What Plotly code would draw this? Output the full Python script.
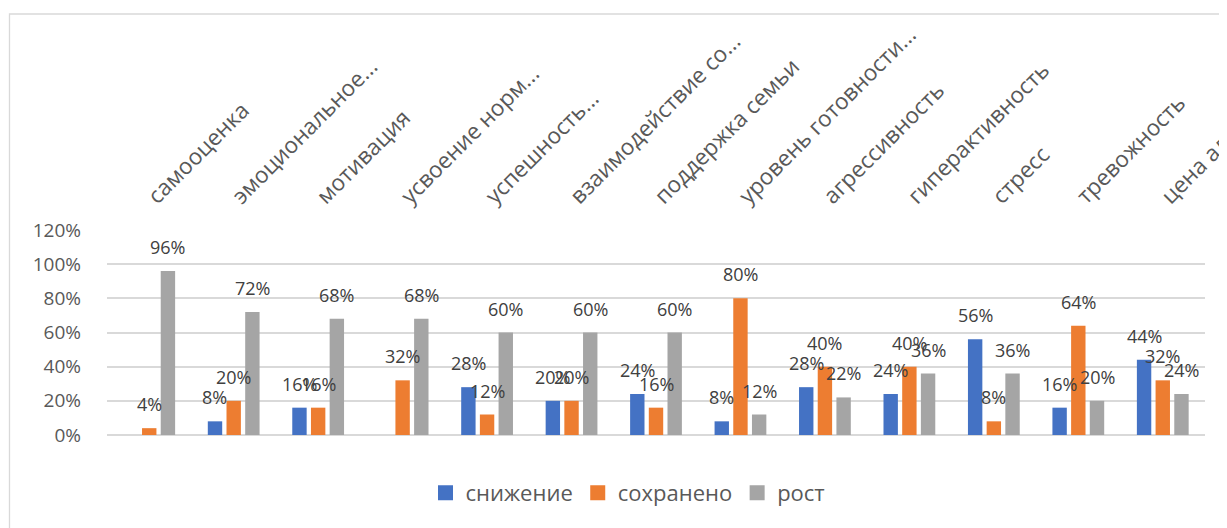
import plotly.graph_objects as go

categories = ["самооценка", "эмоциональное...", "мотивация", "усвоение норм...",
              "успешность...", "взаимодействие со...", "поддержка семьи",
              "уровень готовности...", "агрессивность", "гиперактивность",
              "стресс", "тревожность", "цена адаптации"]
decrease = [None, 8, 16, None, 28, 20, 24, 8, 28, 24, 56, 16, 44]
kept = [4, 20, 16, 32, 12, 20, 16, 80, 40, 40, 8, 64, 32]
growth = [96, 72, 68, 68, 60, 60, 60, 12, 22, 36, 36, 20, 24]
series_names = ["снижение", "сохранено", "рост"]
colors = ["#4472C4", "#ED7D31", "#A5A5A5"]
tick_vals = [0, 20, 40, 60, 80, 100, 120]
tick_text = ["0%", "20%", "40%", "60%", "80%", "100%", "120%"]

FONT = "Open Sans"
OFF = 8  # page body margin
W, H = 1227 - OFF, 528 - OFF
L, R, T, B = 107 - OFF, 22, 230 - OFF, 93

fig = go.Figure()
all_series = [decrease, kept, growth]
for name, vals, col in zip(series_names, all_series, colors):
    fig.add_trace(go.Bar(x=categories, y=vals, name=name, marker_color=col,
                         marker_line_width=0, showlegend=False))

# legend entries with square swatches
for name, col in zip(series_names, colors):
    fig.add_trace(go.Scatter(x=[None], y=[None], mode="markers", name=name,
                             marker=dict(symbol="square", size=15, color=col)))

# data labels
slot_px = 18.7
for si, vals in enumerate(all_series):
    for c, v in zip(categories, vals):
        if v is None:
            continue
        fig.add_annotation(x=c, y=v, xref="x", yref="y", text=f"{v}%",
                           showarrow=False, xshift=(si - 1) * slot_px, yshift=24,
                           yanchor="middle", xanchor="center",
                           font=dict(family=FONT, size=18, color="#404040"))

# chart area border
pw, ph = W - L - R, H - T - B
plot_bottom = H - B
fig.add_shape(type="rect", xref="paper", yref="paper",
              x0=(1.5 - L) / pw, x1=(W + 20 - L) / pw,
              y0=(plot_bottom - (H + 20)) / ph, y1=(plot_bottom - 6) / ph,
              line=dict(color="#D9D9D9", width=1.3), fillcolor="rgba(0,0,0,0)",
              layer="below")

fig.update_layout(
    width=W, height=H,
    margin=dict(l=L, r=R, t=T, b=B, pad=0, autoexpand=False),
    paper_bgcolor="white", plot_bgcolor="white",
    barmode="group", bargap=0.336, bargroupgap=0.23,
    font=dict(family=FONT, color="#595959"),
    xaxis=dict(side="top", tickangle=-45, showgrid=False, showline=False,
               ticks="", tickfont=dict(family=FONT, size=22.5, color="#595959"),
               ticklabelstandoff=16, automargin=False),
    yaxis=dict(range=[0, 120], tickvals=tick_vals, ticktext=tick_text,
               showgrid=True, gridcolor="#D9D9D9", gridwidth=1.5,
               zeroline=True, zerolinecolor="#D9D9D9", zerolinewidth=1.5,
               showline=False, ticks="", ticklabelstandoff=25, automargin=False,
               tickfont=dict(family=FONT, size=19, color="#595959")),
    legend=dict(orientation="h", x=(628 - OFF - L) / pw, xanchor="center",
                y=(plot_bottom - (493 - OFF)) / ph, yanchor="middle",
                font=dict(family=FONT, size=22, color="#595959"),
                itemwidth=30, traceorder="normal"),
    showlegend=True,
)

fig.write_html("out.html")
